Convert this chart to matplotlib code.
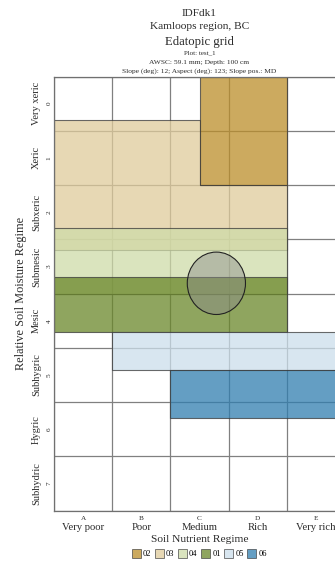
import matplotlib.pyplot as plt
from matplotlib.patches import Polygon, Ellipse, Patch

plt.rcParams['font.family'] = ['Liberation Serif', 'DejaVu Serif']

# grid axes: soil nutrient regime (columns) and soil moisture regime (rows)
snr_codes = ['A', 'B', 'C', 'D', 'E']
snr_names = ['Very poor', 'Poor', 'Medium', 'Rich', 'Very rich']
smr_codes = ['0', '1', '2', '3', '4', '5', '6', '7']
smr_names = ['Very xeric', 'Xeric', 'Subxeric', 'Submesic', 'Mesic',
             'Subhygric', 'Hygric', 'Subhydric']

# site series edatopic extents as polygons (snr, smr), in drawing order
series_codes = ['03', '04', '01', '05', '06', '02']
series_colors = ['#E0CB9B', '#CEDBA8', '#6A872A', '#CBDEEB', '#307EAF', '#BC8E2A']
series_shapes = [
    [(0, 0.8), (2.5, 0.8), (2.5, 2.0), (4, 2.0), (4, 3.2), (0, 3.2)],
    [(0, 2.8), (4, 2.8), (4, 4.0), (0, 4.0)],
    [(0, 3.7), (4, 3.7), (4, 4.7), (0, 4.7)],
    [(1, 4.7), (5, 4.7), (5, 5.4), (1, 5.4)],
    [(2, 5.4), (5, 5.4), (5, 6.3), (2, 6.3)],
    [(2.5, 0), (4, 0), (4, 2.0), (2.5, 2.0)],
]
legend_order = ['02', '03', '04', '01', '05', '06']

# plot location on the grid
plot_snr = 2.79
plot_smr = 3.81

title_lines = ['IDFdk1', 'Kamloops region, BC', 'Edatopic grid', 'Plot: test_1',
               'AWSC: 59.1 mm; Depth: 100 cm',
               'Slope (deg): 12; Aspect (deg): 123; Slope pos.: MD']
title_sizes = [8, 8.2, 9.2, 5, 5.4, 5.4]
title_y_px = [13.7, 26.5, 41.5, 52.7, 62.3, 70.8]

W, H = 335, 561
fig = plt.figure(figsize=(W / 100, H / 100), dpi=100)
ax = fig.add_axes([54 / W, 1 - 510.7 / H, 291 / W, 434.2 / H])

ax.set_xlim(0, len(snr_codes))
ax.set_ylim(len(smr_codes), 0)
ax.set_xticks(range(len(snr_codes) + 1))
ax.set_yticks(range(len(smr_codes) + 1))
ax.tick_params(length=0, labelbottom=False, labelleft=False)
ax.grid(True, color='#808080', lw=0.9, zorder=0)
ax.set_axisbelow(True)
for sp in ax.spines.values():
    sp.set_color('#707070')
    sp.set_linewidth(0.9)

alpha = 0.75
for code, col, shape in zip(series_codes, series_colors, series_shapes):
    ax.add_patch(Polygon(shape, closed=True, facecolor=col, edgecolor='#3a3a3a',
                         lw=0.8, alpha=alpha, zorder=2))

ax.add_patch(Ellipse((plot_snr, plot_smr), 1.0, 1.15, facecolor='#8a8a8a',
                     edgecolor='none', alpha=0.45, zorder=3))
ax.add_patch(Ellipse((plot_snr, plot_smr), 1.0, 1.15, facecolor='none',
                     edgecolor='#222222', lw=0.8, zorder=3))

txt = '#2b2b2b'

# row and column labels
ytr = ax.get_yaxis_transform()
for i, (c, n) in enumerate(zip(smr_codes, smr_names)):
    ax.text(-0.060, i + 0.5, n, transform=ytr, rotation=90, ha='center',
            va='center', fontsize=7.5, color=txt)
    ax.text(-0.017, i + 0.5, c, transform=ytr, rotation=90, ha='center',
            va='center', fontsize=5.2, color=txt)

xtr = ax.get_xaxis_transform()
for j, (c, n) in enumerate(zip(snr_codes, snr_names)):
    ax.text(j + 0.5, -0.019, c, transform=xtr, ha='center', va='center',
            fontsize=5.2, color=txt)
    ax.text(j + 0.5, -0.039, n, transform=xtr, ha='center', va='center',
            fontsize=7.7, color=txt)

ax.text(-0.113, 0.5, 'Relative Soil Moisture Regime', transform=ax.transAxes,
        rotation=90, ha='center', va='center', fontsize=8.8, color=txt)
ax.text(0.5, -0.066, 'Soil Nutrient Regime', transform=ax.transAxes,
        ha='center', va='center', fontsize=8.2, color=txt)

# stacked title centred on the grid
xc = (54 + 291 / 2) / W
for t, s, y in zip(title_lines, title_sizes, title_y_px):
    fig.text(xc, 1 - y / H, t, ha='center', va='center', fontsize=s, color=txt)

handles = []
for code in legend_order:
    k = series_codes.index(code)
    handles.append(Patch(facecolor=series_colors[k], edgecolor='#3a3a3a', lw=0.6,
                         alpha=alpha, label=code))
fig.legend(handles=handles, loc='center', bbox_to_anchor=(xc, 1 - 553.5 / H),
           ncol=6, frameon=False, fontsize=6, handlelength=1.05, handleheight=1.25,
           handletextpad=0.25, columnspacing=0.45, borderpad=0)

fig.savefig('out.png', dpi=100)
